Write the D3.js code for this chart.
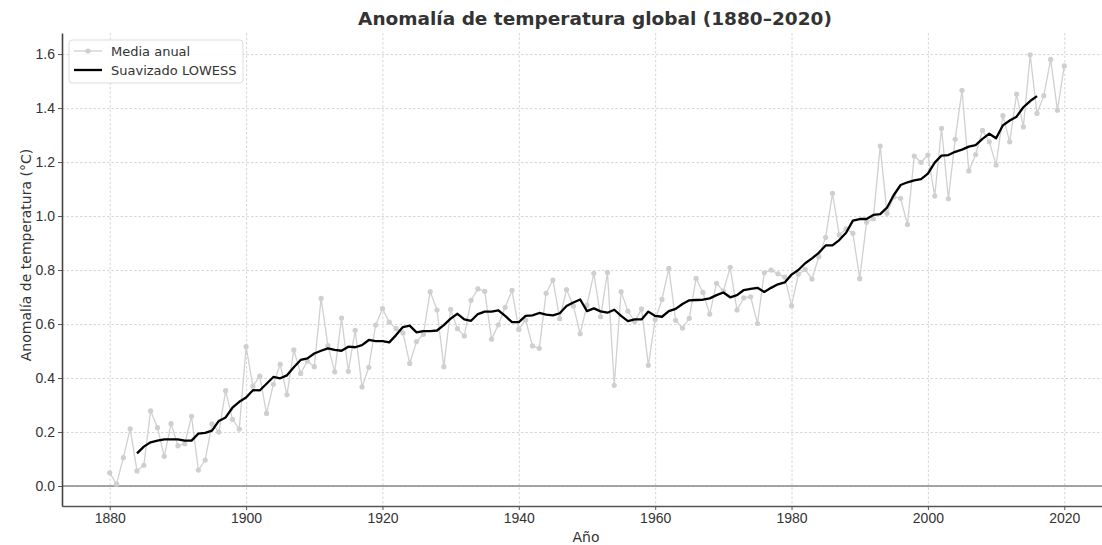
<!DOCTYPE html>
<html>
<head>
<meta charset="utf-8">
<script src="https://cdn.jsdelivr.net/npm/d3@7"></script>
<style>
  body { margin: 0; background: #fff; }
  svg { font-family: "DejaVu Sans", sans-serif; }
  .grid .tick line { stroke: #cccccc; stroke-dasharray: 2.5,2; stroke-width: 0.8; }
  .grid path { display: none; }
  .axis .tick text { fill: #333; font-size: 14px; }
  .axis .tick line { stroke: #555; stroke-width: 1; }
</style>
</head>
<body>
<svg id="chart" width="1102" height="545"></svg>
<script>
// years 1880..2020
const firstYear = 1880;
const annualMean = [
  0.049, 0.007, 0.105, 0.212, 0.056, 0.077, 0.278, 0.216, 0.110, 0.231,
  0.149, 0.157, 0.258, 0.059, 0.096, 0.230, 0.200, 0.353, 0.247, 0.211,
  0.516, 0.370, 0.407, 0.269, 0.377, 0.451, 0.338, 0.504, 0.417, 0.463,
  0.442, 0.695, 0.520, 0.423, 0.622, 0.425, 0.577, 0.367, 0.440, 0.596,
  0.657, 0.607, 0.583, 0.567, 0.454, 0.535, 0.562, 0.720, 0.652, 0.442,
  0.654, 0.583, 0.556, 0.688, 0.730, 0.721, 0.544, 0.597, 0.662, 0.725,
  0.580, 0.615, 0.519, 0.510, 0.714, 0.763, 0.620, 0.728, 0.667, 0.564,
  0.670, 0.788, 0.627, 0.791, 0.373, 0.720, 0.648, 0.609, 0.656, 0.447,
  0.617, 0.691, 0.806, 0.614, 0.585, 0.621, 0.769, 0.717, 0.637, 0.751,
  0.722, 0.810, 0.652, 0.697, 0.701, 0.602, 0.790, 0.800, 0.786, 0.774,
  0.668, 0.784, 0.802, 0.767, 0.849, 0.921, 1.084, 0.930, 0.953, 0.936,
  0.768, 0.977, 0.990, 1.259, 1.010, 1.071, 1.066, 0.969, 1.222, 1.199,
  1.226, 1.074, 1.325, 1.064, 1.284, 1.466, 1.167, 1.228, 1.317, 1.275,
  1.189, 1.372, 1.275, 1.452, 1.330, 1.597, 1.380, 1.446, 1.580, 1.392,
  1.556
];

// LOWESS covers 1884..2016
const lowessStart = 1884;
const lowess = [
  0.121, 0.146, 0.162, 0.168, 0.173, 0.173, 0.173, 0.168, 0.168, 0.194,
  0.197, 0.205, 0.241, 0.254, 0.290, 0.312, 0.328, 0.355, 0.354, 0.379,
  0.404, 0.399, 0.410, 0.440, 0.467, 0.473, 0.491, 0.501, 0.510, 0.504,
  0.501, 0.516, 0.514, 0.522, 0.541, 0.537, 0.537, 0.532, 0.559, 0.589,
  0.594, 0.569, 0.574, 0.574, 0.576, 0.596, 0.620, 0.638, 0.617, 0.612,
  0.637, 0.646, 0.646, 0.651, 0.630, 0.607, 0.607, 0.630, 0.632, 0.641,
  0.635, 0.632, 0.640, 0.667, 0.680, 0.691, 0.648, 0.658, 0.647, 0.642,
  0.653, 0.630, 0.611, 0.617, 0.617, 0.646, 0.630, 0.627, 0.648, 0.656,
  0.674, 0.688, 0.689, 0.690, 0.695, 0.707, 0.717, 0.699, 0.707, 0.726,
  0.730, 0.734, 0.719, 0.734, 0.747, 0.754, 0.783, 0.800, 0.825, 0.843,
  0.864, 0.891, 0.891, 0.911, 0.938, 0.983, 0.989, 0.989, 1.004, 1.007,
  1.031, 1.078, 1.115, 1.125, 1.132, 1.137, 1.157, 1.198, 1.224, 1.226,
  1.238, 1.246, 1.257, 1.263, 1.286, 1.305, 1.288, 1.336, 1.354, 1.368,
  1.403, 1.426, 1.444
];

const xTicks = [1880, 1900, 1920, 1940, 1960, 1980, 2000, 2020];
const yTicks = [0.0, 0.2, 0.4, 0.6, 0.8, 1.0, 1.2, 1.4, 1.6];

const svg = d3.select('#chart');
const margin = { top: 33, right: -10, bottom: 39, left: 62 };
const width = 1102 - margin.left - margin.right;
const height = 545 - margin.top - margin.bottom;

const x = d3.scaleLinear().domain([1873, 2027]).range([0, width]);
const y = d3.scaleLinear().domain([-0.074, 1.678]).range([height, 0]);

const g = svg.append('g').attr('transform', `translate(${margin.left},${margin.top})`);

// grid
g.append('g').attr('class', 'grid')
  .call(d3.axisBottom(x).tickValues(xTicks).tickSize(height).tickFormat(''));
g.append('g').attr('class', 'grid')
  .call(d3.axisLeft(y).tickValues(yTicks).tickSize(-width).tickFormat(''));

// zero line
g.append('line')
  .attr('x1', 0).attr('x2', width)
  .attr('y1', y(0)).attr('y2', y(0))
  .attr('stroke', '#888').attr('stroke-width', 1.3);

const annualData = annualMean.map((v, i) => ({ year: firstYear + i, v: v }));
const lowessData = lowess.map((v, i) => ({ year: lowessStart + i, v: v }));

const line = d3.line().x(d => x(d.year)).y(d => y(d.v));

g.append('path').datum(annualData)
  .attr('d', line).attr('fill', 'none')
  .attr('stroke', '#d0d0d0').attr('stroke-width', 1.3);
g.selectAll('circle.pt').data(annualData).enter().append('circle')
  .attr('class', 'pt')
  .attr('cx', d => x(d.year)).attr('cy', d => y(d.v))
  .attr('r', 2.6).attr('fill', '#cfcfcf');

g.append('path').datum(lowessData)
  .attr('d', line).attr('fill', 'none')
  .attr('stroke', '#000').attr('stroke-width', 2.3)
  .attr('stroke-linejoin', 'round');

// axes
const xAxis = g.append('g').attr('class', 'axis').attr('transform', `translate(0,${height})`)
  .call(d3.axisBottom(x).tickValues(xTicks).tickFormat(d3.format('d'))
    .tickSize(4).tickSizeOuter(0).tickPadding(3));
xAxis.select('.domain').attr('stroke', '#555').attr('stroke-width', 1.6);
const yAxis = g.append('g').attr('class', 'axis')
  .call(d3.axisLeft(y).tickValues(yTicks).tickFormat(d3.format('.1f'))
    .tickSize(4).tickSizeOuter(0).tickPadding(3));
yAxis.select('.domain').attr('stroke', '#444').attr('stroke-width', 1.6);

// title + labels
svg.append('text')
  .attr('x', 595).attr('y', 25)
  .attr('text-anchor', 'middle')
  .attr('font-size', 18.5).attr('font-weight', 'bold').attr('fill', '#333')
  .text('Anomalía de temperatura global (1880–2020)');
svg.append('text')
  .attr('x', 586).attr('y', 542)
  .attr('text-anchor', 'middle')
  .attr('font-size', 14).attr('fill', '#333')
  .text('Año');
svg.append('text')
  .attr('transform', 'translate(31,255) rotate(-90)')
  .attr('text-anchor', 'middle')
  .attr('font-size', 14).attr('fill', '#333')
  .text('Anomalía de temperatura (°C)');

// legend
const lg = svg.append('g').attr('transform', 'translate(69,40)');
lg.append('rect')
  .attr('width', 174).attr('height', 43).attr('rx', 3)
  .attr('fill', '#fff').attr('fill-opacity', 0.85)
  .attr('stroke', '#ddd');
lg.append('line').attr('x1', 5).attr('x2', 33).attr('y1', 11).attr('y2', 11)
  .attr('stroke', '#d0d0d0').attr('stroke-width', 1.3);
lg.append('circle').attr('cx', 19).attr('cy', 11).attr('r', 2.6).attr('fill', '#cfcfcf');
lg.append('text').attr('x', 42).attr('y', 15.5).attr('font-size', 13).attr('fill', '#333')
  .text('Media anual');
lg.append('line').attr('x1', 5).attr('x2', 33).attr('y1', 30).attr('y2', 30)
  .attr('stroke', '#000').attr('stroke-width', 2.3);
lg.append('text').attr('x', 42).attr('y', 34.5).attr('font-size', 13).attr('fill', '#333')
  .text('Suavizado LOWESS');
</script>
</body>
</html>
